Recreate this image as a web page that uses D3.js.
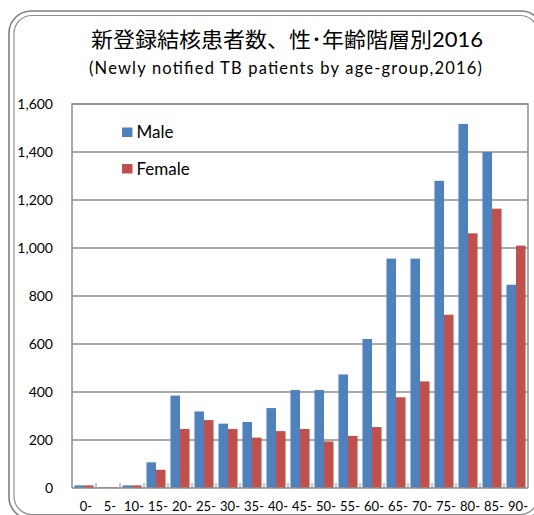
<!DOCTYPE html>
<html>
<head>
<meta charset="utf-8">
<script src="https://cdn.jsdelivr.net/npm/d3@7/dist/d3.min.js"></script>
<style>
body { margin: 0; background: #fff; }
svg { display: block; }
text { font-family: Lato, "Noto Sans CJK JP", sans-serif; fill: #000; }
.grid line { stroke: #8c8c8c; stroke-width: 1.5; }
</style>
</head>
<body>
<svg></svg>
<script>

var ageGroups = ["0-", "5-", "10-", "15-", "20-", "25-", "30-", "35-", "40-", "45-",
                 "50-", "55-", "60-", "65-", "70-", "75-", "80-", "85-", "90-"];
var maleCounts = [11, 3, 11, 107, 385, 319, 268, 275, 333, 408, 408, 473, 621, 956, 956, 1280, 1517, 1400, 847];
var femaleCounts = [11, 3, 11, 76, 246, 283, 246, 210, 237, 246, 194, 217, 254, 378, 444, 722, 1061, 1164, 1010];
var seriesNames = ["Male", "Female"];
var seriesColors = ["#4f81bd", "#c0504d"];
var yTicks = [0, 200, 400, 600, 800, 1000, 1200, 1400, 1600];

var width = 534, height = 515;
var plot = {left: 72, right: 528, top: 104, bottom: 488};

var svg = d3.select("svg").attr("width", width).attr("height", height);

// double rounded frame, cut off at right and bottom like the picture
svg.append("rect")
    .attr("x", 9).attr("y", 11).attr("width", 534).attr("height", 508)
    .attr("rx", 22).attr("ry", 22)
    .style("fill", "none").style("stroke", "#808080").style("stroke-width", 1.6);
svg.append("rect")
    .attr("x", 14).attr("y", 15.5).attr("width", 524).attr("height", 499)
    .attr("rx", 18).attr("ry", 18)
    .style("fill", "none").style("stroke", "#909090").style("stroke-width", 1.2);

svg.append("text")
    .attr("x", 287).attr("y", 47)
    .attr("text-anchor", "middle")
    .attr("textLength", 392).attr("lengthAdjust", "spacingAndGlyphs")
    .style("font-size", "21px")
    .text("新登録結核患者数、性･年齢階層別2016");

svg.append("text")
    .attr("x", 285.5).attr("y", 74)
    .attr("text-anchor", "middle")
    .attr("textLength", 393).attr("lengthAdjust", "spacing")
    .style("font-size", "16.5px")
    .text("(Newly notified TB patients by age-group,2016)");

var x0 = d3.scaleBand().domain(ageGroups).range([plot.left, plot.right]).padding(0);
var x1 = d3.scaleBand().domain(seriesNames).range([0, x0.bandwidth()])
    .paddingInner(0).paddingOuter(0.26);
var y = d3.scaleLinear().domain([0, 1600]).range([plot.bottom, plot.top]);

// gridlines
svg.append("g").attr("class", "grid")
  .selectAll("line").data(yTicks.slice(1)).enter().append("line")
    .attr("x1", plot.left).attr("x2", plot.right)
    .attr("y1", function(d) { return y(d); })
    .attr("y2", function(d) { return y(d); });

// plot border
svg.append("path")
    .attr("d", "M" + plot.left + "," + plot.bottom + "V" + plot.top + "H" + plot.right + "V" + plot.bottom)
    .style("fill", "none").style("stroke", "#8c8c8c").style("stroke-width", 1.5);

var rows = ageGroups.map(function(g, i) {
    return {group: g, values: [maleCounts[i], femaleCounts[i]]};
});

var groups = svg.append("g").selectAll("g").data(rows).enter().append("g")
    .attr("transform", function(d) { return "translate(" + x0(d.group) + ",0)"; });

groups.selectAll("rect").data(function(d) {
        return d.values.map(function(v, j) { return {name: seriesNames[j], value: v, idx: j}; });
    }).enter().append("rect")
    .attr("x", function(d) { return x1(d.name); })
    .attr("width", x1.bandwidth())
    .attr("y", function(d) { return y(d.value); })
    .attr("height", function(d) { return y(0) - y(d.value); })
    .style("fill", function(d) { return seriesColors[d.idx]; });

// y axis labels
var yAxis = d3.axisLeft(y).tickValues(yTicks).tickFormat(d3.format(",")).tickSize(0).tickPadding(19);
var yg = svg.append("g").attr("transform", "translate(" + plot.left + ",0)").call(yAxis);
yg.select(".domain").remove();
yg.selectAll("text").style("font-size", "14px").style("font-family", "Lato, sans-serif");

// x axis
var xAxis = d3.axisBottom(x0).tickSize(0).tickPadding(14);
var xg = svg.append("g").attr("transform", "translate(0," + plot.bottom + ")").call(xAxis);
xg.select(".domain").attr("d", "M" + plot.left + ",0H" + plot.right)
    .style("stroke", "#8c8c8c").style("stroke-width", 1.5);
xg.selectAll("text").style("font-size", "13px").style("font-family", "Lato, sans-serif")
    .attr("dx", 2);

// small inside ticks between categories
xg.selectAll("line.sep").data(ageGroups.slice(1)).enter().append("line")
    .attr("class", "sep")
    .attr("x1", function(d) { return x0(d); }).attr("x2", function(d) { return x0(d); })
    .attr("y1", 0).attr("y2", -5)
    .style("stroke", "#8c8c8c").style("stroke-width", 1);

// legend
var legend = svg.append("g").selectAll("g").data(seriesNames).enter().append("g")
    .attr("transform", function(d, i) { return "translate(122," + (127.5 + i * 36.5) + ")"; });
legend.append("rect")
    .attr("width", 10.5).attr("height", 9.5)
    .style("fill", function(d, i) { return seriesColors[i]; });
legend.append("text")
    .attr("x", 14.5).attr("y", 5).attr("dy", "0.35em")
    .style("font-size", "17px")
    .text(function(d) { return d; });

</script>
</body>
</html>
